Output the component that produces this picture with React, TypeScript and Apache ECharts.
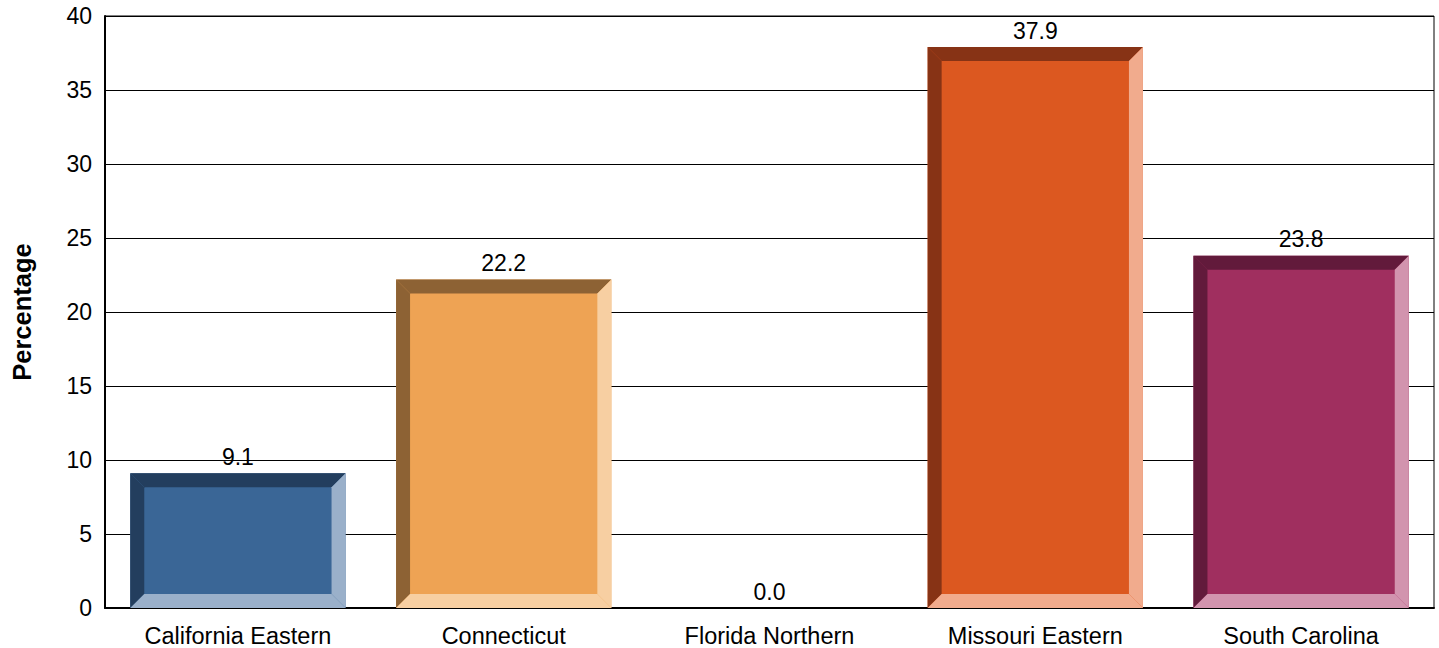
import React, { useEffect, useRef } from "react";
import * as echarts from "echarts";

const categories = ["California Eastern", "Connecticut", "Florida Northern", "Missouri Eastern", "South Carolina"];
const values = [9.1, 22.2, 0.0, 37.9, 23.8];
const faceColors = ["#3A6696", "#EEA354", "#9B9B9B", "#DC5820", "#A02F5F"];
const darkColors = ["#233E5E", "#8D6234", "#555555", "#873315", "#621A3B"];
const lightColors = ["#9AB0CA", "#F7CFA2", "#DDDDDD", "#F1AB8D", "#D294AE"];
const yTicks = { min: 0, max: 40, interval: 5 };

export default function App() {
  const ref = useRef<HTMLDivElement>(null);
  useEffect(() => {
    if (!ref.current) return;
    const chart = echarts.init(ref.current, null, { renderer: "svg" });
    const font = "'Liberation Sans', Arial, sans-serif";
    chart.setOption({
      animation: false,
      backgroundColor: "#ffffff",
      grid: {
        left: 105,
        right: 5,
        top: 16,
        bottom: 40,
        show: true,
        borderColor: "#000",
        borderWidth: 1,
      },
      xAxis: {
        type: "category",
        data: categories,
        axisLine: { lineStyle: { color: "#000", width: 2 } },
        axisTick: { show: false },
        axisLabel: { color: "#000", fontSize: 23.5, fontFamily: font, margin: 16 },
      },
      yAxis: {
        type: "value",
        min: yTicks.min,
        max: yTicks.max,
        interval: yTicks.interval,
        name: "Percentage",
        nameLocation: "middle",
        nameGap: 70,
        nameTextStyle: { color: "#000", fontSize: 25.5, fontWeight: "bold", fontFamily: font },
        axisLine: { show: true, lineStyle: { color: "#000", width: 2 } },
        axisTick: { show: false },
        axisLabel: { color: "#000", fontSize: 23, fontFamily: font, margin: 13 },
        splitLine: { lineStyle: { color: "#000", width: 1 } },
      },
      series: [
        {
          type: "bar",
          data: values,
          barWidth: "81%",
          itemStyle: { color: "rgba(0,0,0,0)" },
          label: {
            show: true,
            position: "top",
            distance: 5,
            color: "#000",
            fontSize: 23,
            fontFamily: font,
            formatter: (p: any) => Number(p.value).toFixed(1),
          },
          z: 3,
        },
        {
          type: "custom",
          data: values.map((v, i) => [i, v]),
          z: 2,
          renderItem: (params: any, api: any) => {
            const i = api.value(0);
            const v = api.value(1);
            if (!v) return { type: "group", children: [] };
            const top = api.coord([i, v]);
            const base = api.coord([i, 0]);
            const band = api.size([1, 0])[0];
            const w = band * 0.81;
            const x0 = top[0] - w / 2;
            const x1 = top[0] + w / 2;
            const y0 = top[1];
            const y1 = base[1];
            const b = Math.min(14, (y1 - y0) / 2, w / 2);
            const idx = params.dataIndex;
            const dark = darkColors[idx];
            const light = lightColors[idx];
            const face = faceColors[idx];
            return {
              type: "group",
              children: [
                { type: "rect", shape: { x: x0, y: y0, width: w, height: y1 - y0 }, style: { fill: face } },
                { type: "polygon", shape: { points: [[x0, y0], [x1, y0], [x1 - b, y0 + b], [x0 + b, y0 + b]] }, style: { fill: dark } },
                { type: "polygon", shape: { points: [[x0, y0], [x0 + b, y0 + b], [x0 + b, y1 - b], [x0, y1]] }, style: { fill: dark } },
                { type: "polygon", shape: { points: [[x1, y0], [x1, y1], [x1 - b, y1 - b], [x1 - b, y0 + b]] }, style: { fill: light } },
                { type: "polygon", shape: { points: [[x0, y1], [x1, y1], [x1 - b, y1 - b], [x0 + b, y1 - b]] }, style: { fill: light } },
              ],
            };
          },
        },
      ],
    });
    return () => chart.dispose();
  }, []);
  return (
    <div
      ref={ref}
      style={{ position: "fixed", left: 0, top: 0, width: 1439, height: 648, background: "#fff" }}
    />
  );
}
